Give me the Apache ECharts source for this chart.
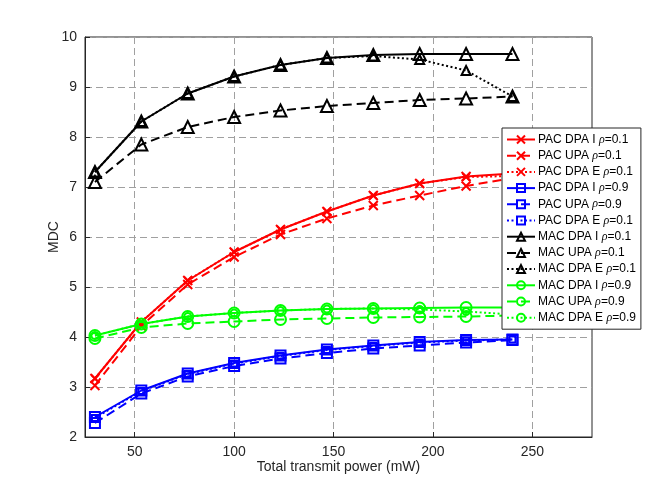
<!DOCTYPE html>
<html>
<head>
<meta charset="utf-8">
<script src="https://cdn.jsdelivr.net/npm/echarts@6/dist/echarts.min.js"></script>
<style>
  html, body { margin: 0; padding: 0; background: #fff; }
  #main { width: 654px; height: 491px; }
</style>
</head>
<body>
<div id="main"></div>
<script>
var chartDom = document.getElementById('main');
var myChart = echarts.init(chartDom);

// total transmit power (mW)
const power = [30, 53.33, 76.67, 100, 123.33, 146.67, 170, 193.33, 216.67, 240];
const xTicks = [50, 100, 150, 200, 250];

const pacDpaI01 = [3.17, 4.30, 5.13, 5.70, 6.15, 6.51, 6.83, 7.07, 7.21, 7.27];
const pacUpa01 = [3.03, 4.22, 5.05, 5.60, 6.05, 6.37, 6.63, 6.83, 7.02, 7.18];
const pacDpaE01 = [3.17, 4.30, 5.13, 5.70, 6.15, 6.51, 6.83, 7.07, 7.20, 7.22];
const pacDpaI09 = [2.40, 2.93, 3.27, 3.48, 3.63, 3.75, 3.83, 3.90, 3.94, 3.95];
const pacUpa09 = [2.28, 2.87, 3.21, 3.42, 3.57, 3.68, 3.77, 3.83, 3.89, 3.94];
const pacDpaE09 = [2.38, 2.92, 3.26, 3.47, 3.62, 3.74, 3.82, 3.89, 3.93, 3.95];
const macDpaI01 = [7.30, 8.31, 8.87, 9.21, 9.44, 9.58, 9.64, 9.66, 9.66, 9.66];
const macUpa01 = [7.10, 7.85, 8.20, 8.40, 8.53, 8.62, 8.68, 8.74, 8.77, 8.81];
const macDpaE01 = [7.30, 8.31, 8.87, 9.21, 9.44, 9.58, 9.62, 9.55, 9.33, 8.81];
const macDpaI09 = [4.03, 4.26, 4.41, 4.48, 4.53, 4.56, 4.57, 4.58, 4.59, 4.59];
const macUpa09 = [3.97, 4.19, 4.27, 4.31, 4.35, 4.37, 4.39, 4.40, 4.41, 4.43];
const macDpaE09 = [4.03, 4.26, 4.41, 4.48, 4.53, 4.56, 4.57, 4.55, 4.51, 4.45];

const markX = 'path://M0,0L10,10M0,10L10,0';
const markSquare = 'path://M0,0L10,0L10,10L0,10Z';
const markTriangle = 'path://M5,0L10,9L0,9Z';

const DASH = [9, 5];
const DOT = [2, 2.5];

function mk(name, values, color, symbol, lineType, size) {
  return {
    name: name,
    type: 'line',
    data: power.map((p, i) => [p, values[i]]),
    symbol: symbol,
    symbolSize: size,
    showAllSymbol: true,
    lineStyle: { color: color, width: 2, type: lineType },
    itemStyle: { color: 'rgba(0,0,0,0)', borderColor: color, borderWidth: 2 },
    emphasis: { disabled: true },
    animation: false
  };
}

const series = [
  mk('PAC DPA I ρ=0.1', pacDpaI01, '#ff0000', markX, 'solid', 9),
  mk('PAC UPA ρ=0.1', pacUpa01, '#ff0000', markX, DASH, 9),
  mk('PAC DPA E ρ=0.1', pacDpaE01, '#ff0000', markX, DOT, 7),
  mk('PAC DPA I ρ=0.9', pacDpaI09, '#0000ff', markSquare, 'solid', 10),
  mk('PAC UPA ρ=0.9', pacUpa09, '#0000ff', markSquare, DASH, 10),
  mk('PAC DPA E ρ=0.1 ', pacDpaE09, '#0000ff', markSquare, DOT, 6),
  mk('MAC DPA I ρ=0.1', macDpaI01, '#000000', markTriangle, 'solid', 12),
  mk('MAC UPA ρ=0.1', macUpa01, '#000000', markTriangle, DASH, 12),
  mk('MAC DPA E ρ=0.1', macDpaE01, '#000000', markTriangle, DOT, 9),
  mk('MAC DPA I ρ=0.9', macDpaI09, '#00ff00', 'circle', 'solid', 11),
  mk('MAC UPA ρ=0.9', macUpa09, '#00ff00', 'circle', DASH, 11),
  mk('MAC DPA E ρ=0.9', macDpaE09, '#00ff00', 'circle', DOT, 7)
];

var option = {
  backgroundColor: '#fff',
  textStyle: { fontFamily: 'Liberation Sans, Arial, sans-serif' },
  grid: {
    left: 85, right: 62, top: 37, bottom: 54,
    show: true, borderColor: '#262626', borderWidth: 1
  },
  legend: {
    orient: 'vertical',
    left: 502,
    top: 128,
    itemWidth: 28,
    itemHeight: 10,
    itemGap: 3.2,
    padding: [5, 5, 5, 4],
    backgroundColor: '#fff',
    borderColor: '#262626',
    borderWidth: 1,
    selectedMode: false,
    formatter: function (name) {
      return name.trim().replace('ρ', '{i|ρ}');
    },
    textStyle: {
      fontSize: 12,
      color: '#000',
      lineHeight: 13,
      padding: [0, 0, 0, -2],
      rich: {
        i: { fontStyle: 'italic', fontSize: 12, lineHeight: 13, fontFamily: 'Liberation Serif, serif' }
      }
    }
  },
  xAxis: {
    type: 'value',
    min: 25,
    max: 280,
    name: 'Total transmit power (mW)',
    nameLocation: 'middle',
    nameGap: 23,
    nameMoveOverlap: false,
    nameTextStyle: { fontSize: 14, color: '#262626' },
    axisLine: { onZero: false, lineStyle: { color: '#262626' } },
    axisTick: { inside: true, length: 5, customValues: xTicks, lineStyle: { color: '#262626' } },
    axisLabel: { customValues: xTicks, fontSize: 14, color: '#262626', margin: 8 },
    splitLine: { show: true, lineStyle: { color: '#a0a0a0', type: [7, 4] } }
  },
  yAxis: {
    type: 'value',
    min: 2,
    max: 10,
    interval: 1,
    name: 'MDC',
    nameLocation: 'middle',
    nameGap: 24,
    nameMoveOverlap: false,
    nameTextStyle: { fontSize: 14, color: '#262626' },
    axisLine: { show: true, lineStyle: { color: '#262626' } },
    axisTick: { show: true, inside: true, length: 5, lineStyle: { color: '#262626' } },
    axisLabel: { fontSize: 14, color: '#262626', margin: 8 },
    splitLine: { show: true, lineStyle: { color: '#a0a0a0', type: [7, 4] } }
  },
  series: series
};

option && myChart.setOption(option);
</script>
</body>
</html>
